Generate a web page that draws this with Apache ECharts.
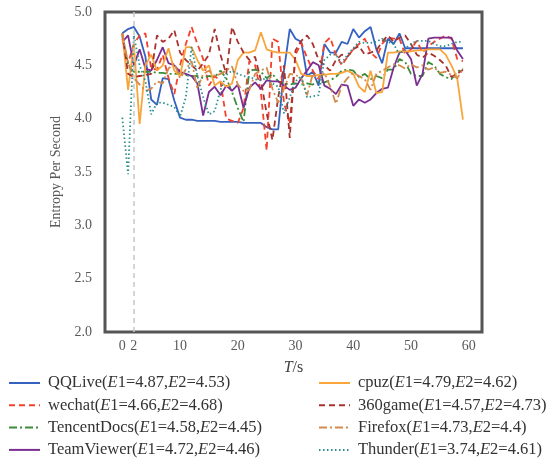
<!DOCTYPE html>
<html>
<head>
<meta charset="utf-8">
<script src="https://cdn.jsdelivr.net/npm/echarts@6/dist/echarts.min.js"></script>
<style>
  html, body { margin: 0; padding: 0; background: #fff; }
  #chart { width: 551px; height: 460px; }
</style>
</head>
<body>
<div id="chart"></div>
<script>
// 时间轴 (s)
const time = [];
for (let i = 0; i < 60; i++) time.push(i);

const xTicks = [0, 2, 10, 20, 30, 40, 50, 60];

const names = ["QQLive", "wechat", "TencentDocs", "TeamViewer", "cpuz", "360game", "Firefox", "Thunder"];
const e1 = ["4.87", "4.66", "4.58", "4.72", "4.79", "4.57", "4.73", "3.74"];
const e2 = ["4.53", "4.68", "4.45", "4.46", "4.62", "4.73", "4.4", "4.61"];

const qqLive = [4.80, 4.84, 4.86, 4.77, 4.58, 4.18, 4.13, 4.38, 4.37, 4.17,
  4.01, 3.99, 3.99, 3.98, 3.98, 3.98, 3.98, 3.97, 3.97, 3.97,
  3.97, 3.96, 3.96, 3.96, 3.96, 3.92, 3.90, 3.90, 4.45, 4.84,
  4.75, 4.72, 4.40, 4.44, 4.31, 4.70, 4.62, 4.62, 4.72, 4.70,
  4.84, 4.76, 4.82, 4.86, 4.65, 4.52, 4.75, 4.70, 4.80, 4.66,
  4.66, 4.66, 4.66, 4.66, 4.66, 4.66, 4.66, 4.66, 4.66, 4.66];

const wechat = [4.75, 4.52, 4.70, 4.78, 4.80, 4.47, 4.46, 4.60, 4.38, 4.23,
  4.50, 4.70, 4.86, 4.70, 4.56, 4.31, 4.40, 4.35, 4.00, 3.98,
  3.96, 4.10, 4.54, 4.50, 4.25, 3.70, 4.75, 4.72, 4.15, 3.95,
  4.60, 4.71, 4.57, 4.45, 4.37, 4.71, 4.76, 4.60, 4.50, 4.58,
  4.65, 4.70, 4.75, 4.62, 4.57, 4.70, 4.76, 4.75, 4.75, 4.60,
  4.65, 4.73, 4.62, 4.68, 4.72, 4.75, 4.78, 4.75, 4.56, 4.54];

const tencentDocs = [4.78, 4.50, 4.44, 4.44, 4.44, 4.44, 4.43, 4.43, 4.42, 4.42,
  4.42, 4.41, 4.40, 4.40, 4.38, 4.40, 4.39, 4.45, 4.38, 4.25,
  4.10, 3.97, 4.45, 4.46, 4.44, 4.38, 4.42, 4.35, 4.33, 4.32,
  4.33, 4.32, 4.33, 4.32, 4.35, 4.34, 4.36, 4.39, 4.45, 4.46,
  4.45, 4.39, 4.42, 4.37, 4.40, 4.38, 4.46, 4.46, 4.56, 4.53,
  4.42, 4.40, 4.40, 4.53, 4.50, 4.42, 4.39, 4.37, 4.44, 4.47];

const teamViewer = [4.72, 4.78, 4.50, 4.65, 4.47, 4.45, 4.55, 4.67, 4.52, 4.50,
  4.44, 4.42, 4.40, 4.33, 4.03, 4.25, 4.30, 4.22, 4.31, 4.26,
  4.32, 4.10, 4.29, 4.34, 4.28, 4.36, 4.35, 4.35, 4.31, 4.27,
  4.29, 4.38, 4.45, 4.53, 4.50, 4.31, 4.28, 4.23, 4.32, 4.31,
  4.12, 4.18, 4.15, 4.18, 4.24, 4.28, 4.29, 4.48, 4.62, 4.64,
  4.56, 4.31, 4.42, 4.75, 4.76, 4.76, 4.76, 4.76, 4.64, 4.56];

const cpuz = [4.80, 4.27, 4.70, 3.95, 4.50, 4.60, 4.45, 4.50, 4.66, 4.45,
  4.40, 4.67, 4.67, 4.55, 4.45, 4.50, 4.31, 4.35, 4.30, 4.33,
  4.55, 4.62, 4.62, 4.64, 4.81, 4.65, 4.63, 4.62, 4.62, 4.62,
  4.55, 4.42, 4.40, 4.40, 4.41, 4.41, 4.42, 4.42, 4.43, 4.45,
  4.42, 4.30, 4.25, 4.45, 4.24, 4.25, 4.62, 4.62, 4.63, 4.63,
  4.63, 4.64, 4.64, 4.65, 4.65, 4.65, 4.60, 4.50, 4.38, 3.99];

const game360 = [4.80, 4.42, 4.39, 4.40, 4.41, 4.42, 4.78, 4.72, 4.75, 4.83,
  4.62, 4.55, 4.50, 4.45, 4.52, 4.60, 4.84, 4.60, 4.42, 4.86,
  4.72, 4.62, 4.55, 4.58, 4.36, 4.05, 3.80, 4.20, 4.50, 3.82,
  4.64, 4.73, 4.78, 4.70, 4.55, 4.50, 4.45, 4.55, 4.60, 4.58,
  4.65, 4.68, 4.60, 4.62, 4.64, 4.72, 4.78, 4.72, 4.76, 4.78,
  4.70, 4.60, 4.57, 4.62, 4.59, 4.55, 4.50, 4.39, 4.42, 4.46];

const firefox = [4.80, 4.52, 4.38, 4.32, 4.26, 4.28, 4.35, 4.33, 4.47, 4.52,
  4.38, 4.46, 4.54, 4.28, 4.42, 4.45, 4.40, 4.42, 4.45, 4.49,
  4.32, 4.26, 4.27, 4.42, 4.45, 4.48, 4.28, 4.15, 4.28, 4.42,
  4.41, 4.38, 4.22, 4.42, 4.38, 4.43, 4.30, 4.14, 4.31, 4.38,
  4.43, 4.40, 4.37, 4.27, 4.42, 4.45, 4.48, 4.51, 4.50, 4.47,
  4.51, 4.48, 4.50, 4.46, 4.48, 4.43, 4.44, 4.41, 4.38, 4.46];

const thunder = [4.01, 3.48, 4.78, 4.50, 4.35, 4.04, 4.15, 4.15, 4.13, 4.11,
  4.02, 4.20, 4.67, 4.40, 4.20, 4.04, 4.07, 4.27, 4.41, 4.45,
  4.42, 4.40, 4.39, 4.37, 4.36, 4.38, 4.33, 4.30, 4.05, 4.20,
  4.35, 4.40, 4.20, 4.21, 4.22, 4.55, 4.60, 4.60, 4.52, 4.60,
  4.66, 4.72, 4.71, 4.71, 4.72, 4.75, 4.72, 4.70, 4.60, 4.66,
  4.70, 4.73, 4.73, 4.73, 4.70, 4.68, 4.68, 4.70, 4.72, 4.72];

const seriesValues = [qqLive, wechat, tencentDocs, teamViewer, cpuz, game360, firefox, thunder];
const colors = ["#3561c1", "#f5402c", "#3a8c3a", "#7a2f91", "#f9a53a", "#a8322d", "#d48a4c", "#2b8f8f"];
const dashes = ["solid", [6, 4], [8, 3, 2, 3], "solid", "solid", [6, 4], [8, 3, 2, 3], [1.5, 2.5]];

const serif = "'Liberation Serif', 'Times New Roman', serif";

const chart = echarts.init(document.getElementById("chart"));

const series = names.map((name, k) => {
  const s = {
    name: name,
    type: "line",
    symbol: "none",
    color: colors[k],
    lineStyle: { color: colors[k], width: 1.8, type: dashes[k] },
    data: time.map((t, i) => [t, seriesValues[k][i]]),
  };
  if (k === 0) {
    // t=2 处的竖虚线
    s.markLine = {
      silent: true,
      symbol: "none",
      label: { show: false },
      lineStyle: { color: "#c8c8c8", type: [5, 4], width: 1.5 },
      data: [{ xAxis: 2 }],
    };
  }
  return s;
});

const fs = 16.5;
const legendText = {
  fontFamily: serif,
  fontSize: fs,
  color: "#333",
  lineHeight: 22,
  rich: {
    p: { width: 3, lineHeight: 22 },
    n: { fontFamily: serif, fontSize: fs, color: "#333", lineHeight: 22 },
    i: { fontFamily: serif, fontSize: fs, color: "#333", fontStyle: "italic", lineHeight: 22 },
  },
};

function legendFormatter(name) {
  const k = names.indexOf(name);
  return "{p|}{n|" + name + "(}{i|E}{n|1=" + e1[k] + ",}{i|E}{n|2=" + e2[k] + ")}";
}

function makeLegend(list, left) {
  return {
    data: list,
    orient: "vertical",
    left: left,
    top: 372,
    height: 100,
    padding: 0,
    itemWidth: 31,
    itemHeight: 12,
    itemGap: 0.3,
    // 只画线，不画圆点
    itemStyle: { opacity: 0 },
    textStyle: legendText,
    formatter: legendFormatter,
  };
}

const option = {
  animation: false,
  grid: {
    left: 105,
    right: 69,
    top: 12,
    bottom: 128,
    show: true,
    borderColor: "#555",
    borderWidth: 3,
  },
  legend: [makeLegend(names.slice(0, 4), 8), makeLegend(names.slice(4), 318)],
  xAxis: {
    type: "value",
    min: -3,
    max: 62.3,
    name: "{i|T}{n|/s}",
    nameLocation: "middle",
    nameGap: 28,
    nameTextStyle: {
      rich: {
        i: { fontFamily: serif, fontSize: 16, color: "#404040", fontStyle: "italic" },
        n: { fontFamily: serif, fontSize: 16, color: "#404040" },
      },
    },
    axisLine: { show: false },
    axisTick: { show: false },
    splitLine: { show: false },
    axisLabel: {
      customValues: xTicks,
      color: "#595959",
      fontFamily: serif,
      fontSize: 14,
      margin: 7,
    },
  },
  yAxis: {
    type: "value",
    min: 2,
    max: 5,
    interval: 0.5,
    name: "Entropy Per Second",
    nameLocation: "middle",
    nameGap: 40,
    nameTextStyle: { fontFamily: serif, fontSize: 14, color: "#595959" },
    axisLine: { show: false },
    axisTick: { show: false },
    splitLine: { show: false },
    axisLabel: {
      color: "#595959",
      fontFamily: serif,
      fontSize: 14,
      margin: 13,
      formatter: (v) => v.toFixed(1),
    },
  },
  series: series,
};

chart.setOption(option);
</script>
</body>
</html>
